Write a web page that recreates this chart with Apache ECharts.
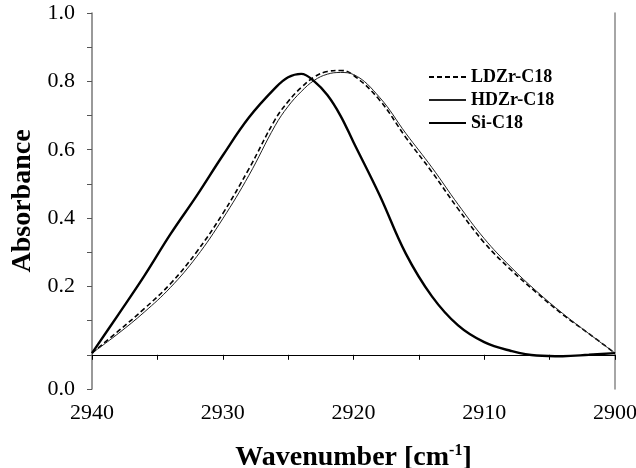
<!DOCTYPE html>
<html>
<head>
<meta charset="utf-8">
<script src="https://cdn.jsdelivr.net/npm/echarts@6/dist/echarts.min.js"></script>
<style>
  html, body { margin: 0; padding: 0; background: #fff; }
  #main { width: 636px; height: 468px; }
</style>
</head>
<body>
<div id="main"></div>
<script>
// 波数 (cm-1)，峰附近取密一点
const wavenumbers = [2940, 2938, 2936, 2934, 2932, 2930, 2928, 2926, 2925, 2924, 2923, 2922, 2921, 2920,
  2918, 2916, 2914, 2912, 2910, 2908, 2906, 2904, 2902, 2900]

// 吸光度
const ldzrValues = [0.005, 0.069, 0.135, 0.208, 0.301, 0.413, 0.544, 0.688, 0.741, 0.782, 0.813, 0.829, 0.832, 0.818,
  0.745, 0.636, 0.535, 0.427, 0.328, 0.250, 0.182, 0.118, 0.062, 0.005]
const hdzrValues = [0.005, 0.062, 0.125, 0.197, 0.287, 0.398, 0.525, 0.670, 0.727, 0.770, 0.803, 0.821, 0.826, 0.820,
  0.753, 0.648, 0.548, 0.440, 0.340, 0.258, 0.186, 0.121, 0.062, 0.005]
const siValues = [0.005, 0.117, 0.231, 0.353, 0.465, 0.583, 0.694, 0.780, 0.812, 0.822, 0.800, 0.760, 0.700, 0.622,
  0.467, 0.296, 0.171, 0.086, 0.037, 0.012, -0.002, -0.004, 0.000, 0.005]

const seriesNames = ['LDZr-C18', 'HDZr-C18', 'Si-C18']

// y 轴刻度文字 (底部标的是 0.0)
const yLabelValues = [-0.1, 0.2, 0.4, 0.6, 0.8, 1.0]
const yLabelTexts = ['0.0', '0.2', '0.4', '0.6', '0.8', '1.0']

const SERIF = '"Liberation Serif", "Times New Roman", serif'

const toPairs = (vals) => wavenumbers.map((w, i) => [w, vals[i]])

const chart = echarts.init(document.getElementById('main'))

chart.setOption({
  animation: false,
  backgroundColor: '#fff',
  grid: { left: 92, right: 21, top: 13, bottom: 79, containLabel: false, outerBoundsMode: 'none' },
  legend: {
    data: seriesNames,
    orient: 'vertical',
    left: 423,
    top: 63,
    itemWidth: 37,
    itemHeight: 14,
    itemGap: 5,
    itemStyle: { opacity: 0 },
    textStyle: { fontFamily: SERIF, fontWeight: 'bold', fontSize: 18, color: '#000' }
  },
  xAxis: [{
    type: 'value',
    inverse: true,
    min: 2900,
    max: 2940,
    interval: 5,
    name: 'Wavenumber [cm{sup|-1}]',
    nameLocation: 'middle',
    nameGap: 54,
    nameTextStyle: {
      fontFamily: SERIF, fontWeight: 'bold', fontSize: 28, color: '#000',
      rich: {
        sup: { fontFamily: SERIF, fontWeight: 'bold', fontSize: 16, color: '#000', padding: [0, 0, 13, 0] }
      }
    },
    axisLine: { lineStyle: { color: '#000', width: 1 } },
    axisTick: { show: true, inside: false, length: 5, lineStyle: { color: '#000' } },
    axisLabel: {
      margin: 13,
      fontFamily: SERIF, fontSize: 22, color: '#000',
      formatter: (v) => (v % 10 === 0 ? String(v) : '')
    },
    splitLine: { show: false }
  }, {
    // 上边框
    type: 'value', position: 'top', inverse: true, min: 2900, max: 2940,
    axisLine: { show: true, lineStyle: { color: '#000', width: 1.2 } },
    axisTick: { show: false }, axisLabel: { show: false }, splitLine: { show: false }
  }],
  yAxis: [{
    type: 'value',
    min: -0.1,
    max: 1.0,
    interval: 0.1,
    name: 'Absorbance',
    nameLocation: 'middle',
    nameGap: 53,
    nameTextStyle: { fontFamily: SERIF, fontWeight: 'bold', fontSize: 28, color: '#000' },
    axisLine: { show: true, lineStyle: { color: '#777', width: 1.5 } },
    axisTick: { show: true, inside: false, length: 5, lineStyle: { color: '#555' } },
    axisLabel: {
      margin: 17,
      fontFamily: SERIF, fontSize: 22, color: '#000',
      formatter: (v) => {
        const i = yLabelValues.findIndex(t => Math.abs(t - v) < 1e-6)
        return i === -1 ? '' : yLabelTexts[i]
      }
    },
    splitLine: { show: false }
  }, {
    // 右边框
    type: 'value', position: 'right', min: -0.1, max: 1.0,
    axisLine: { show: true, lineStyle: { color: '#888', width: 1.5 } },
    axisTick: { show: false }, axisLabel: { show: false }, splitLine: { show: false }
  }],
  series: [
    {
      name: seriesNames[0], type: 'line', data: toPairs(ldzrValues),
      symbol: 'none', smooth: 0.4,
      lineStyle: { color: '#000', width: 1.6, type: [5, 3] },
      itemStyle: { color: '#000' }
    },
    {
      name: seriesNames[1], type: 'line', data: toPairs(hdzrValues),
      symbol: 'none', smooth: 0.4,
      lineStyle: { color: '#222', width: 1 },
      itemStyle: { color: '#222' }
    },
    {
      name: seriesNames[2], type: 'line', data: toPairs(siValues),
      symbol: 'none', smooth: 0.4,
      lineStyle: { color: '#000', width: 2.4 },
      itemStyle: { color: '#000' }
    }
  ]
})
</script>
</body>
</html>
